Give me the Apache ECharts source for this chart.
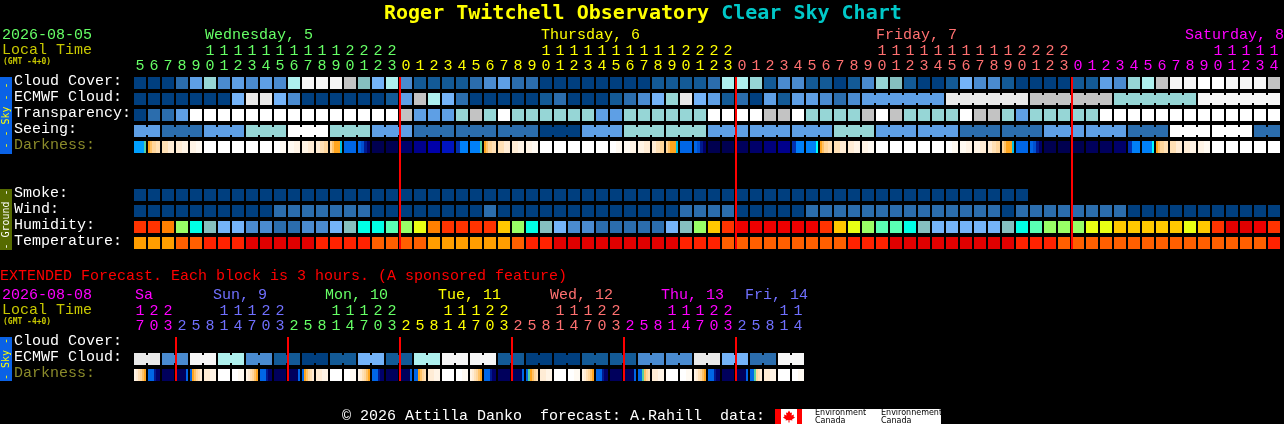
<!DOCTYPE html>
<html>
<head>
<meta charset="utf-8">
<script src="https://cdn.jsdelivr.net/npm/echarts@6/dist/echarts.min.js"></script>
<style>html,body{margin:0;padding:0;background:#000;overflow:hidden}#c{width:1284px;height:424px}</style>
</head>
<body>
<div id="c"></div>
<script>
// ---------- tick labels ----------
const hourDigits = ('56789' + '01234567890123' + '012345678901234567890123' + '012345678901234567890123' + '012345678901234').split('');
const hourTens = ('     11111111112222' + '          11111111112222' + '          11111111112222' + '          11111').split('').map(s => s.trim());
const extDigits = ('703' + '25814703' + '25814703' + '25814703' + '25814703' + '25814703' + '25814').split('');
const extTens = ('122' + '   11122' + '   11122' + '   11122' + '   11122' + '   11122' + '   11').split('').map(s => s.trim());
const rowLabels = ['Cloud Cover:', 'ECMWF Cloud:', 'Transparency:', 'Seeing:', 'Darkness:', '', '', 'Smoke:', 'Wind:', 'Humidity:', 'Temperature:'];
const extRowLabels = ['Cloud Cover:', 'ECMWF Cloud:', 'Darkness:'];
const dayNames = ['Wednesday, 5', 'Thursday, 6', 'Friday, 7', 'Saturday, 8'];
const extDayNames = ['Sa', 'Sun, 9', 'Mon, 10', 'Tue, 11', 'Wed, 12', 'Thu, 13', 'Fri, 14'];

// ---------- series values (palette levels) ----------
const cloudCover = [0,0,0,2,4,7,3,4,3,4,3,8,11,11,11,9,6,5,8,3,1,1,1,1,2,3,4,2,2,0,0,0,0,0,0,0,0,1,1,1,1,2,8,8,7,1,3,3,1,1,0,1,3,7,6,1,0,0,1,5,3,3,1,0,0,0,0,1,1,4,3,7,8,9,11,11,12,12,11,11,11,9];
const ecmwfCloud = [0,0,0,0,0,0,0,5,10,10,5,3,0,0,0,0,0,0,1,4,9,8,5,2,0,0,0,0,0,1,2,0,0,0,1,2,3,5,7,10,5,4,1,2,0,4,1,4,4,3,2,3,4,4,4,4,4,4,10,10,10,10,10,10,9,9,9,9,9,9,7,7,7,7,7,7,11,11,11,11,11,11];
const ecmwfRuns = [1,1,1,1,1,1,1,1,1,1,1,1,1,1,1,1,1,1,1,1,1,1,1,1,1,1,1,1,1,1,1,1,1,1,1,1,1,1,1,1,1,1,1,1,1,1,1,1,1,1,1,1,6,6,6,6,6];
const transparency = [0,2,2,4,12,12,12,12,12,12,12,12,12,12,12,12,12,12,12,9,4,4,4,7,9,7,12,7,7,7,7,7,7,4,4,7,7,7,7,7,7,12,12,12,12,9,9,12,7,7,7,7,9,12,9,7,7,7,7,12,9,9,7,4,7,7,7,7,7,12,12,12,12,12,12,12,12,12,12,12,12,12];
const seeing = [4,4,2,2,2,4,4,4,7,7,7,12,12,12,7,7,7,4,4,4,2,2,2,2,2,2,2,2,2,0,0,0,4,4,4,7,7,7,7,7,7,4,4,4,4,4,4,4,4,4,7,7,7,4,4,4,4,4,4,2,2,2,2,2,2,4,4,4,4,4,4,2,2,2,12,12,12,12,12,12,2,2];
const seeingRuns = [2,3,3,3,3,3,3,3,3,3,3,3,3,3,3,3,3,3,3,3,3,3,3,3,3,3,3,2];
const darkness = ['AAAAAT','opqqrr','rs','st','tu','w','w','w','w','w','wu','ut','ts','srq','qpoooS','B','BCDc','a','a','c','e','f','g','hPP','PPPPPT',
  'opqqrr','rs','st','tu','w','w','w','w','w','wu','ut','ts','srq','qpoooS','B','BCDc','a','a','b','c','d','e','hPP','PPPPPY',
  'opqqrr','rs','st','tu','w','w','w','w','w','wu','ut','ts','srq','qpoooS','B','BCDc','a','a','a','b','b','c','hPP','PPPPPY',
  'opqqrr','rs','st','tu','w','w','w','w','w'];
const smoke = [0,0,0,0,0,0,0,0,0,0,0,0,0,0,0,0,0,0,0,0,0,0,0,0,0,0,0,0,0,0,0,0,0,0,0,0,0,0,0,0,0,0,0,0,0,0,0,0,0,0,0,0,0,0,0,0,0,0,0,0,0,0,0,0];
const wind = [0,0,0,0,0,0,0,0,0,0,2,2,2,2,2,2,2,0,0,0,0,0,0,0,0,2,0,0,0,0,0,0,0,0,0,0,0,0,0,2,2,2,2,0,0,0,0,0,2,2,2,2,2,2,2,2,2,2,2,2,2,2,0,2,2,2,2,2,2,2,2,0,0,0,0,0,0,0,0,0,0,0];
const humidity = [2,2,3,6,8,9,10,10,11,11,12,12,11,11,10,9,8,8,7,6,5,3,2,2,2,2,4,6,8,9,10,11,11,12,12,12,12,12,10,9,6,4,2,1,1,1,1,1,1,2,4,5,6,7,7,8,9,10,10,10,10,10,9,8,7,6,6,6,5,5,4,4,4,4,4,5,4,2,0,0,1,2];
const temperature = [0,0,0,1,1,2,2,2,3,3,3,3,3,2,2,2,2,1,1,1,1,0,0,0,0,0,0,1,2,2,3,3,3,3,3,3,3,3,3,2,2,2,1,1,1,1,1,1,1,1,1,2,2,2,3,3,3,3,3,3,3,3,3,2,2,2,1,1,1,1,1,1,1,1,1,1,1,1,1,1,1,2];
const extEcmwf = [10,10,3,3,11,11,8,8,3,3,1,1,0,0,1,1,5,5,1,1,8,8,11,11,11,11,1,1,0,0,0,0,1,1,1,1,3,3,3,3,10,10,5,5,2,2,11,11];
const extRuns = [2,2,2,2,2,2,2,2,2,2,2,2,2,2,2,2,2,2,2,2,2,2,2,2];
const extDarkness = ['tsrqpo','BBBDcc','b','bbbbbB','Bopqrs','st','w','wu','tsrqpo','BBBDcc','b','bbbbbB','Bopqrs','st','w','wu','tsrqpo','BBBDcc','b','bbbbbB','BBopqr','st','w','wu','tsrqpo','BBBDcc','b','bbbbbB','BTopqr','st','w','wu','tsrqpo','BBBDcc','b','bbbbbB','BBTpqr','st','w','wu','tsrqpo','BBBDcc','b','bbbbbB','BBTqrs','st','w','wu'];
const midnightCols = [19, 43, 67];
const extMidnightCols = [3, 11, 19, 27, 35, 43];

// ---------- palettes ----------
const skyPalette = ['#003f7f','#135a96','#2b6dad','#4a8bd0','#5e9fe5','#74b3f8','#85bfbf','#96d6d6','#aef0ee','#c3c3c3','#e9e9e9','#f6f6f6','#ffffff'];
const humidityPalette = ['#e00000','#ee0000','#ff3300','#ff8000','#ffc800','#e9ff14','#99ff66','#5affb4','#00ffe5','#85bfbf','#74b3f8','#4a8bd0','#2b6dad'];
const temperaturePalette = ['#ff9e00','#ff5f00','#ff2200','#e00000'];
const darkPalette = {A:'#00a0ff',P:'#0080f8',B:'#0066e6',C:'#0050d0',D:'#001a90',T:'#55d0a0',S:'#00c0e4',Y:'#00ffff',
  a:'#000050',b:'#00005c',c:'#00006a',d:'#00007c',e:'#00008c',f:'#0000aa',g:'#0014c0',h:'#0030b0',
  o:'#ffa51e',p:'#ffc266',q:'#ffd69c',r:'#ffe0b5',s:'#ffecd5',t:'#fff4e6',u:'#fffaf2',w:'#ffffff'};
const dayColors = ['#66ff66','#ffff00','#ff7070','#ff00ff'];
const dayStarts = [0,19,43,67];
const extDayColors = ['#ff00ff','#7070ff','#66ff66','#ffff00','#ff7070','#ff00ff','#7070ff'];
const extDayStarts = [0,3,11,19,27,35,43];

const MONO = '"Liberation Mono"';
const TITLE_MONO = '"DejaVu Sans Mono"';
function colorAt(starts, colors, i) { let k = 0; starts.forEach((s, j) => { if (i >= s) k = j; }); return colors[k]; }

function linkFlags(runs, n) {
  const f = new Array(n).fill(0); let p = 0;
  runs.forEach(r => { for (let i = 0; i < r - 1; i++) f[p + i] = 1; p += r; });
  return f;
}
function renderCell(fillOf) {
  return function (params, api) {
    const c = api.coord([api.value(0), api.value(1)]);
    const band = api.size([1, 1]);
    const w = band[0] - 2, h = band[1] - 4;
    const fill = fillOf(api.value(2));
    const kids = [{ type: 'rect', shape: { x: c[0] - w / 2, y: c[1] - h / 2, width: w, height: h }, style: { fill: fill } }];
    if (api.value(3)) kids.push({ type: 'rect', shape: { x: c[0] + w / 2, y: c[1] - h / 2 + 2, width: 2, height: h - 4 }, style: { fill: fill } });
    return { type: 'group', children: kids };
  };
}
function cells(name, gridIdx, row, vals, palette, runs) {
  const links = runs ? linkFlags(runs, vals.length) : [];
  return { type: 'custom', name, xAxisIndex: gridIdx === 0 ? 0 : 2, yAxisIndex: gridIdx, silent: true, z: 2,
    data: vals.map((v, i) => [i, row, v, links[i] || 0]),
    renderItem: renderCell(v => palette[v]) };
}
function darkFill(code) {
  const n = code.length;
  if (n === 1) return darkPalette[code];
  const stops = [];
  code.split('').forEach((ch, i) => { stops.push({ offset: i / n, color: darkPalette[ch] }); stops.push({ offset: (i + 1) / n, color: darkPalette[ch] }); });
  return new echarts.graphic.LinearGradient(0, 0, 1, 0, stops);
}
function darkCells(name, gridIdx, row, codes) {
  return { type: 'custom', name, xAxisIndex: gridIdx === 0 ? 0 : 2, yAxisIndex: gridIdx, silent: true, z: 2,
    encode: { x: 0, y: 1 },
    data: codes.map((s, i) => [i, row, i]),
    renderItem: function (params, api) {
      const c = api.coord([api.value(0), api.value(1)]);
      const band = api.size([1, 1]);
      const w = band[0] - 2, h = band[1] - 4;
      return { type: 'rect', shape: { x: c[0] - w / 2, y: c[1] - h / 2, width: w, height: h }, style: { fill: darkFill(codes[api.value(2)]) } };
    } };
}
function redLines(name, gridIdx, cols, lastRow) {
  return { type: 'custom', name, xAxisIndex: gridIdx === 0 ? 0 : 2, yAxisIndex: gridIdx, silent: true, z: 5,
    data: cols.map(c => [c, 0]),
    renderItem: function (params, api) {
      const top = api.coord([api.value(0), 0]);
      const bot = api.coord([api.value(0), lastRow]);
      const band = api.size([1, 1]);
      return { type: 'rect', shape: { x: top[0] - band[0] / 2, y: top[1] - band[1] / 2 + 2, width: 2, height: bot[1] - top[1] + band[1] - 4 }, style: { fill: '#ff0000' } };
    } };
}
function xAxis(gridIdx, data, starts, colors, offset) {
  return { type: 'category', gridIndex: gridIdx, position: 'top', offset, data, boundaryGap: true,
    axisLine: { show: false }, axisTick: { show: false }, splitLine: { show: false },
    axisLabel: { interval: 0, margin: 1, fontFamily: MONO, fontSize: 15, hideOverlap: false,
      color: (v, i) => colorAt(starts, colors, i) } };
}
function yAxis(gridIdx, data) {
  return { type: 'category', gridIndex: gridIdx, inverse: true, data,
    axisLine: { show: false }, axisTick: { show: false }, splitLine: { show: false },
    axisLabel: { interval: 0, margin: 119, align: 'left', fontFamily: MONO, fontSize: 15,
      formatter: v => (v === 'Darkness:' ? '{o|' + v + '}' : (v ? '{w|' + v + '}' : '')),
      rich: {
        w: { color: '#ffffff', fontFamily: MONO, fontSize: 15, lineHeight: 15, padding: [0, 0, 3, 0] },
        o: { color: '#8a8a2a', fontFamily: MONO, fontSize: 15, lineHeight: 15, padding: [0, 0, 3, 0] }
      } } };
}

function txt(x, y, text, fill, font, extra) {
  return Object.assign({ type: 'text', x, y, silent: true,
    style: { text, fill, font: font || ('15px ' + MONO), textAlign: 'left', textVerticalAlign: 'middle', align: 'left', verticalAlign: 'middle' } }, extra || {});
}
function box(x, y, w, h, fill) { return { type: 'rect', silent: true, shape: { x, y, width: w, height: h }, style: { fill } }; }
function sideText(x, y, text, fill) {
  return { type: 'text', x, y, rotation: Math.PI / 2, silent: true,
    style: { text, fill, font: '10px "DejaVu Sans Mono"', textAlign: 'center', textVerticalAlign: 'middle', align: 'center', verticalAlign: 'middle' } };
}

const GMT = 'bold 8px "DejaVu Sans Mono"';
const dayX = [205, 541, 876, 1185];
const extDayX = [135, 213, 325, 438, 550, 661, 745];

const graphicEls = [
  txt(2, 35, '2026-08-05', '#66ff66'),
  txt(2, 50, 'Local Time', '#c8c800'),
  txt(3, 62, '(GMT -4+0)', '#c8c800', GMT),
  txt(0, 276, 'EXTENDED Forecast. Each block is 3 hours. (A sponsored feature)', '#ff0000'),
  txt(2, 295, '2026-08-08', '#ff00ff'),
  txt(2, 310, 'Local Time', '#c8c800'),
  txt(3, 322, '(GMT -4+0)', '#c8c800', GMT),
  txt(342, 416, '\u00a9 2026 Attilla Danko  forecast: A.Rahill  data:', '#ffffff'),
  box(0, 77, 12, 77, '#0a62e6'), sideText(6, 115.5, '- - Sky - -', '#ffff00'),
  box(0, 189, 12, 61, '#566b00'), sideText(6, 219.5, '- Ground -', '#ffffff'),
  box(0, 337, 12, 44, '#0a62e6'), sideText(6, 359, '- Sky -', '#ffff00'),
  // data-source logo
  box(775, 409, 166, 15, '#ffffff'),
  box(775, 409, 6, 15, '#ff0000'), box(797, 409, 5, 15, '#ff0000'),
  { type: 'polygon', x: 789, y: 416.5, silent: true, shape: { points: [[0,-6],[1.5,-3.5],[3,-4],[2.5,-1],[5,-2],[4.5,0],[6,1],[3,3],[3.5,4],[0.5,3.5],[0.5,6],[-0.5,6],[-0.5,3.5],[-3.5,4],[-3,3],[-6,1],[-4.5,0],[-5,-2],[-2.5,-1],[-3,-4],[-1.5,-3.5]] }, style: { fill: '#ff0000' } },
  txt(815, 412.5, 'Environment', '#000000', '8px "DejaVu Sans"'),
  txt(815, 420.5, 'Canada', '#000000', '8px "DejaVu Sans"'),
  txt(881, 412.5, 'Environnement', '#000000', '8px "DejaVu Sans"'),
  txt(881, 420.5, 'Canada', '#000000', '8px "DejaVu Sans"')
];
dayNames.forEach((t, i) => graphicEls.push(txt(dayX[i], 35, t, dayColors[i])));
extDayNames.forEach((t, i) => graphicEls.push(txt(extDayX[i], 295, t, extDayColors[i])));

const chart = echarts.init(document.getElementById('c'), null, { renderer: 'canvas' });
chart.setOption({
  backgroundColor: '#000000',
  animation: false,
  title: { left: 384, top: -1, padding: [5, 0, 5, 0], text: '{a|Roger Twitchell Observatory\u00a0}{b|Clear Sky Chart}',
    textStyle: { rich: {
      a: { color: '#ffff00', fontFamily: TITLE_MONO, fontWeight: 'bold', fontSize: 20 },
      b: { color: '#00c8c8', fontFamily: TITLE_MONO, fontWeight: 'bold', fontSize: 20 } } } },
  grid: [
    { left: 133, top: 75, width: 1148, height: 176 },
    { left: 133, top: 335, width: 672, height: 48 }
  ],
  xAxis: [
    xAxis(0, hourDigits, dayStarts, dayColors, 0),
    xAxis(0, hourTens, dayStarts, dayColors, 15),
    xAxis(1, extDigits, extDayStarts, extDayColors, 0),
    xAxis(1, extTens, extDayStarts, extDayColors, 15)
  ],
  yAxis: [yAxis(0, rowLabels), yAxis(1, extRowLabels)],
  graphic: graphicEls,
  series: [
    cells('Cloud Cover', 0, 0, cloudCover, skyPalette),
    cells('ECMWF Cloud', 0, 1, ecmwfCloud, skyPalette, ecmwfRuns),
    cells('Transparency', 0, 2, transparency, skyPalette),
    cells('Seeing', 0, 3, seeing, skyPalette, seeingRuns),
    darkCells('Darkness', 0, 4, darkness),
    cells('Smoke', 0, 7, smoke, skyPalette),
    cells('Wind', 0, 8, wind, skyPalette),
    cells('Humidity', 0, 9, humidity, humidityPalette),
    cells('Temperature', 0, 10, temperature, temperaturePalette),
    redLines('Midnight', 0, midnightCols, 10),
    cells('Extended ECMWF', 1, 1, extEcmwf, skyPalette, extRuns),
    darkCells('Extended Darkness', 1, 2, extDarkness),
    redLines('Extended Midnight', 1, extMidnightCols, 2)
  ]
});
</script>
</body>
</html>
